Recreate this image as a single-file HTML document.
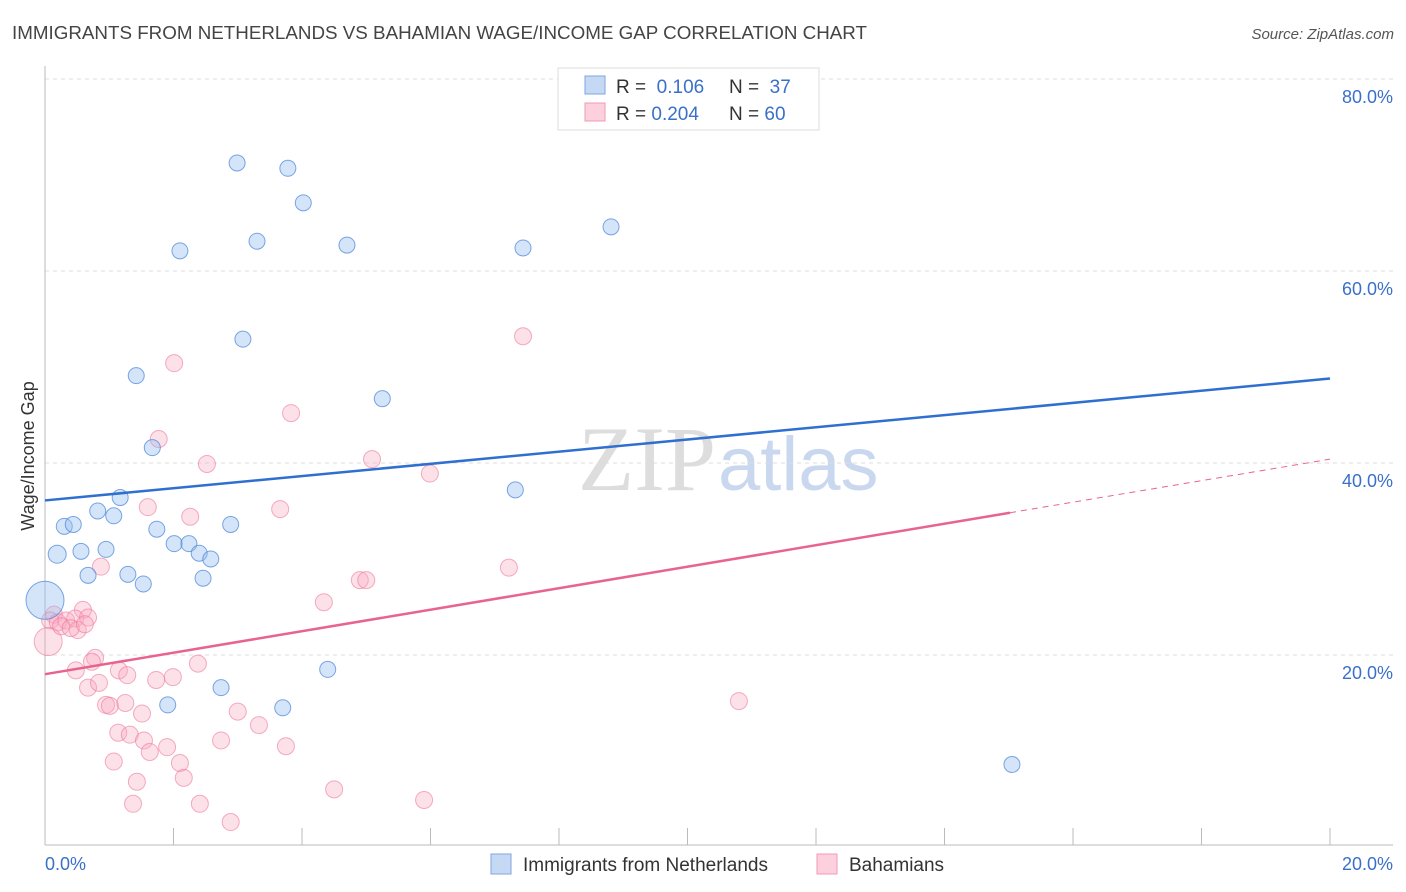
<!DOCTYPE html>
<html><head><meta charset="utf-8"><style>
body{margin:0;background:#fff;font-family:"Liberation Sans",sans-serif}
svg{display:block}
</style></head><body>
<svg id="chart" width="1406" height="892">
<text x="12" y="39" font-size="18.8" fill="#444">IMMIGRANTS FROM NETHERLANDS VS BAHAMIAN WAGE/INCOME GAP CORRELATION CHART</text>
<text x="1394" y="39" font-size="15" fill="#555" font-style="italic" text-anchor="end">Source: ZipAtlas.com</text>
<text x="716" y="490" font-size="92" fill="#ddd" text-anchor="end" font-family="Liberation Serif">ZIP</text>
<text x="718" y="490" font-size="76" fill="#c9d8ef">atlas</text>
<g id="grid"></g><g id="axes"></g><g id="pts"></g><g id="lines"></g>
<text transform="translate(34,456) rotate(-90)" font-size="18" fill="#333" text-anchor="middle">Wage/Income Gap</text>
<g>
<rect x="558" y="68" width="261" height="62" fill="#fff" stroke="#ddd"/>
<rect x="585" y="76" width="20" height="18" fill="#c5d9f5" stroke="#7da6e0"/>
<rect x="585" y="103" width="20" height="18" fill="#fcd0dc" stroke="#f09ab3"/>
<text x="616" y="93" font-size="19" fill="#333">R = <tspan fill="#3a70c8">&#160;0.106</tspan><tspan x="729">N = </tspan><tspan fill="#3a70c8">&#160;37</tspan></text>
<text x="616" y="120" font-size="19" fill="#333">R = <tspan fill="#3a70c8">0.204</tspan><tspan x="729">N = </tspan><tspan fill="#3a70c8">60</tspan></text>
</g>
<g>
<rect x="491" y="854" width="20" height="20" fill="#c5d9f5" stroke="#7da6e0"/>
<text x="523" y="871" font-size="19" fill="#333">Immigrants from Netherlands</text>
<rect x="817" y="854" width="20" height="20" fill="#fcd0dc" stroke="#f09ab3"/>
<text x="849" y="871" font-size="19" fill="#333">Bahamians</text>
</g>
</svg>
<script>
const blueX=[2.99,3.78,4.02,2.10,3.30,4.70,7.44,8.81,3.08,1.42,5.25,1.67,7.32,1.17,0.82,1.07,0.30,0.44,1.74,2.89,0.19,0.56,0.95,2.01,2.24,2.40,2.58,0.67,1.29,1.53,2.46,0.0,4.40,2.74,1.91,3.70,15.05];
const blueY=[71.25,70.7,67.1,62.1,63.1,62.7,62.4,64.6,52.9,49.1,46.7,41.6,37.2,36.4,35.0,34.5,33.4,33.6,33.1,33.6,30.5,30.8,31.0,31.6,31.6,30.6,30.0,28.3,28.4,27.4,28.0,25.7,18.5,16.6,14.8,14.5,8.6];
const blueR=[8,8,8,8,8,8,8,8,8,8,8,8,8,8,8,8,8,8,8,8,9,8,8,8,8,8,8,8,8,8,8,19,8,8,8,8,8];
const pinkX=[2.01,7.44,3.83,1.77,2.52,5.09,5.99,1.60,2.26,3.66,0.87,7.22,4.90,5.00,4.34,0.59,0.14,0.08,0.20,0.33,0.47,0.67,0.51,0.05,0.78,0.73,0.48,2.38,1.15,1.28,0.67,0.84,1.73,1.99,0.95,1.01,1.25,1.51,3.00,1.14,1.32,1.54,3.33,1.90,1.63,2.74,3.75,1.07,2.10,2.16,1.43,4.50,1.37,2.41,5.90,2.89,10.80,0.25,0.40,0.62];
const pinkY=[50.4,53.2,45.2,42.5,39.9,40.4,38.9,35.4,34.4,35.2,29.2,29.1,27.8,27.8,25.5,24.7,24.2,23.6,23.4,23.6,23.8,23.9,22.6,21.4,19.7,19.3,18.4,19.1,18.4,17.9,16.6,17.1,17.4,17.7,14.8,14.7,15.0,13.9,14.1,11.9,11.7,11.1,12.7,10.4,9.9,11.1,10.5,8.9,8.75,7.2,6.8,6.0,4.5,4.5,4.9,2.6,15.2,23.0,22.8,23.2];
const yTicks=[20,40,60,80];
const xTickLabels=["0.0%","20.0%"];
const blueTrend=[36.1,48.8];
const pinkTrend=[18.0,40.4];
const NS="http://www.w3.org/2000/svg";
const X=v=>45+v/20*1285, Y=v=>847-v*9.6;
function mk(tag,attrs,parent){const e=document.createElementNS(NS,tag);for(const k in attrs)e.setAttribute(k,attrs[k]);document.getElementById(parent).appendChild(e);return e;}
yTicks.forEach(t=>{
 const l=mk('line',{x1:45,x2:1393,y1:Y(t),y2:Y(t),stroke:'#ddd','stroke-dasharray':'4,4'},'grid');
 
 
 const tx=mk('text',{x:1393,y:Y(t)+24,'font-size':18,fill:'#3a70c8','text-anchor':'end'},'grid');
 tx.textContent=t.toFixed(1)+'%';
 
 
});
mk('line',{x1:45,x2:45,y1:66,y2:845,stroke:'#bbb'},'axes');
mk('line',{x1:45,x2:1393,y1:845,y2:845,stroke:'#bbb'},'axes');
for(let i=0;i<=10;i++){const t=mk('line',{x1:X(i*2),x2:X(i*2),y1:828,y2:845,stroke:'#bbb'},'axes');
 
 }
[[0,'start',45],[20,'end',1393]].forEach((d,i)=>{const t=mk('text',{x:d[2],y:870,'font-size':18,fill:'#3a70c8','text-anchor':d[1]},'axes');t.textContent=xTickLabels[i];
 
 });
pinkX.forEach((x,i)=>{const c=mk('circle',{cx:X(x),cy:Y(pinkY[i]),r:i==23?14:8.5,fill:'rgba(248,170,192,0.35)',stroke:'rgba(236,120,155,0.6)','stroke-width':1},'pts');
 
 });
blueX.forEach((x,i)=>{const c=mk('circle',{cx:X(x),cy:Y(blueY[i]),r:blueR[i],fill:'rgba(150,190,240,0.4)',stroke:'rgba(70,130,215,0.7)','stroke-width':1},'pts');
 
 });
const bl=mk('line',{x1:X(0),y1:Y(blueTrend[0]),x2:X(20),y2:Y(blueTrend[1]),stroke:'#2f6fd0','stroke-width':2.5},'lines');


const pm=pinkTrend[0]+(pinkTrend[1]-pinkTrend[0])*0.751;
const pl=mk('line',{x1:X(0),y1:Y(pinkTrend[0]),x2:X(15.02),y2:Y(pm),stroke:'#e8648f','stroke-width':2.5},'lines');


const pd=mk('line',{x1:X(15.02),y1:Y(pm),x2:X(20),y2:Y(pinkTrend[1]),stroke:'#e8648f','stroke-width':1,'stroke-dasharray':'6,5'},'lines');


</script>
</body></html>
